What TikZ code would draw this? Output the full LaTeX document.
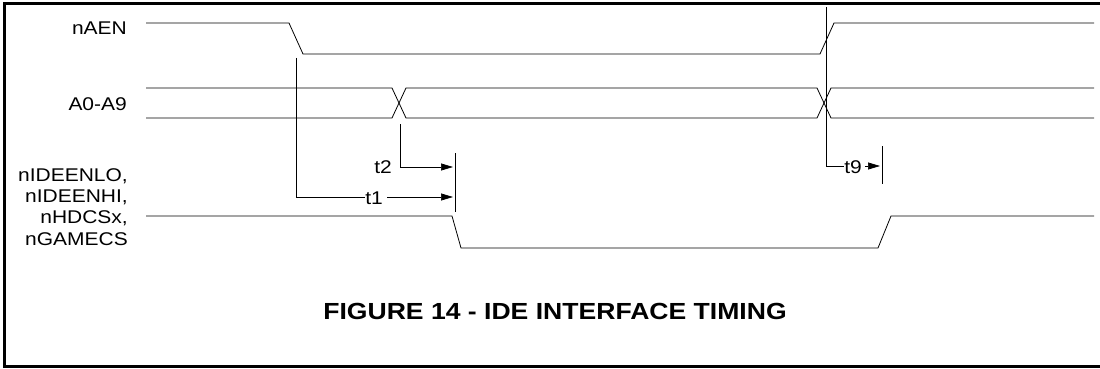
\documentclass[tikz,border=0pt]{standalone}
\usepackage{fontspec}
\usetikzlibrary{arrows.meta}
\newfontfamily\figfont{Liberation Sans}
\newcommand{\sigfont}{\figfont\fontsize{18.4}{21.3}\selectfont}
\newcommand{\titlefont}{\figfont\bfseries\fontsize{23.3}{28}\selectfont}
% the drawing's lettering is a little wider than Arial
\newcommand{\wide}[1]{\scalebox{1.14}[1]{#1}}

\begin{document}
\begin{tikzpicture}[
  x=1pt, y=-1pt,
  sigline/.style={line width=0.8pt, black},
  dimline/.style={line width=0.7pt, black},
  dimarrow/.style={dimline, -{Triangle[length=12pt, width=7pt]}},
  siglabel/.style={font=\sigfont, anchor=east, inner sep=0pt},
  tlabel/.style={font=\sigfont, inner sep=0.5pt, fill=white},
]
\useasboundingbox (0,0) rectangle (1100,369);

% frame
\draw[line width=3pt] (4.5,4) rectangle (1106,366.5);

% signal names
\node[siglabel] (aenlbl) at (127,28) {\wide{nAEN}};
\node[siglabel] (addrlbl) at (127,104) {\wide{A0-A9}};
\node[siglabel, align=right] (cslbl) at (128,207) {\sigfont\wide{nIDEENLO,}\\\wide{nIDEENHI,}\\\wide{nHDCSx,}\\\wide{nGAMECS}};

% nAEN
\draw[sigline] (146,23) -- (289,23) -- (303,54) -- (820,54) -- (834,23) -- (1094,23);

% A0-A9 bus
\draw[sigline] (146,88) -- (392,88) -- (406,118) -- (817,118) -- (831,88) -- (1094,88);
\draw[sigline] (146,118) -- (392,118) -- (406,88) -- (817,88) -- (831,118) -- (1094,118);

% chip selects
\draw[sigline] (146,216) -- (452,216) -- (461,248) -- (878,248) -- (891,216) -- (1094,216);

% reference bars
\coordinate (bar1top) at (455,153);
\coordinate (bar1bot) at (455,212);
\coordinate (bar9top) at (882,146);
\coordinate (bar9bot) at (882,184);
\draw[dimline] (bar1top) -- (bar1bot);
\draw[dimline] (bar9top) -- (bar9bot);

% t1
\coordinate (t1top) at (296,58);
\coordinate (t1corner) at (296,197);
\coordinate (t1end) at (453,197);
\node[tlabel] (t1lbl) at (374,198) {\wide{t1}};
\draw[dimline] (t1top) -- (t1corner) -- (t1lbl.west |- t1corner);
\draw[dimarrow] ([xshift=4pt]t1lbl.east |- t1corner) -- (t1end);

% t2
\coordinate (t2top) at (400,124);
\coordinate (t2corner) at (400,167);
\coordinate (t2end) at (453,167);
\node[font=\sigfont, anchor=east, inner sep=0pt] (t2lbl) at (392,167) {\wide{t2}};
\draw[dimarrow] (t2top) -- (t2corner) -- (t2end);

% t9
\coordinate (t9top) at (826,7);
\coordinate (t9corner) at (826,166);
\coordinate (t9end) at (880,166);
\node[tlabel] (t9lbl) at (853,167) {\wide{t9}};
\draw[dimline] (t9top) -- (t9corner) -- (t9lbl.west |- t9corner);
\draw[dimarrow] ([xshift=3pt]t9lbl.east |- t9corner) -- (t9end);

% caption
\node[font=\titlefont, inner sep=0pt] (title) at (555,311) {\wide{FIGURE 14 - IDE INTERFACE TIMING}};

\end{tikzpicture}
\end{document}
